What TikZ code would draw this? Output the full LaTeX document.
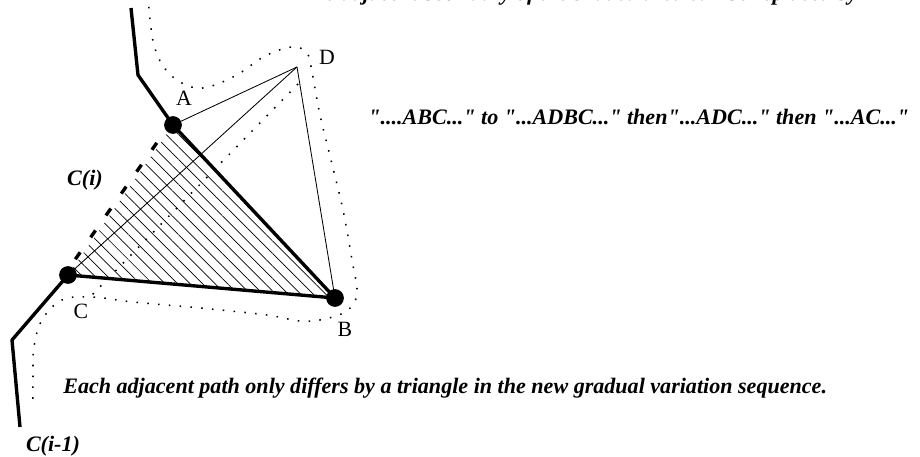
\documentclass[tikz,border=0pt]{standalone}
\usepackage{fontspec}
\setmainfont{Liberation Serif}[Ligatures=TeXOff]
\usetikzlibrary{patterns.meta}

\begin{document}
\begin{tikzpicture}[
    x=0.025cm, y=-0.025cm,
    gradPathStyle/.style={line width=2.4pt, line join=round},
    gradThinStyle/.style={line width=0.6pt},
    gradDashStyle/.style={line width=2.4pt, dash pattern=on 6pt off 13pt, dash phase=2pt},
    gradDotStyle/.style={line width=1.1pt, dash pattern=on 1.1pt off 6.6pt},
    gradHatchStyle/.style={pattern={Lines[angle=-45, distance=6.3pt, line width=0.5pt]}},
    gradVertexStyle/.style={font=\fontsize{15.5}{18}\selectfont, inner sep=0pt},
    gradTextStyle/.style={font=\fontsize{15.7}{19}\selectfont\bfseries\itshape, inner sep=0pt}
]
    \useasboundingbox (0,0) rectangle (920,457);

    % --- 顶点 ---
    \coordinate (A) at (173,125);
    \coordinate (B) at (335,298);
    \coordinate (C) at (68,275);
    \coordinate (D) at (297,67);
    \coordinate (topEnd) at (131,8);
    \coordinate (topBend) at (138,75);
    \coordinate (lowBend) at (12,340);
    \coordinate (lowEnd) at (20,427);
    \coordinate (dotStart) at (298,84);
    \coordinate (dotEnd) at (90,297);

    % 三角形 ABC 阴影
    \path[gradHatchStyle] (A) -- (B) -- (C) -- cycle;

    % 细线
    \draw[gradThinStyle] (D) -- (A);
    \draw[gradThinStyle] (D) -- (C);
    \draw[gradThinStyle] (D) -- (B);

    % 点线 (新路径)
    \draw[gradDotStyle] plot[smooth, tension=0.6] coordinates {
        (148,-4) (150,20) (154,45) (163,66) (180,82) (203,88) (235,76)
        (265,56) (292,47) (307,53) (312,72) (320,115) (331,160) (343,210)
        (352,260) (357,293) (348,310) (325,319) (300,321) (267,315)
        (200,308) (133,302) (92,297) (62,300) (42,320) (34,347) (33,375)
        (33,405)};
    \draw[gradDotStyle] (dotStart) -- (dotEnd);

    % 粗线 C(i)
    \draw[gradPathStyle] (topEnd) -- (topBend) -- (A) -- (B) -- (C)
        -- (lowBend) -- (lowEnd);
    \draw[gradDashStyle] ([shift={(-2.5,-1.7)}]A) -- ([shift={(-2.5,-1.7)}]C);

    \fill (A) circle (6.3pt);
    \fill (B) circle (6.3pt);
    \fill (C) circle (6.3pt);

    % 标注
    \node[gradVertexStyle] (labA) at (184,98) {A};
    \node[gradVertexStyle] (labB) at (345,329) {B};
    \node[gradVertexStyle] (labC) at (81,311) {C};
    \node[gradVertexStyle] (labD) at (327,57) {D};
    \node[gradTextStyle] (labCi) at (85,180) {C(i)};
    \node[gradTextStyle] (labCprev) at (53,446) {C(i-1)};

    % 说明文字
    \node[gradTextStyle, anchor=base east] (noteTop) at (858,0.5)
        {The adjacent boundary of the shaded area can be replaced by};
    \node[gradTextStyle, anchor=base west] (noteSeq) at (368,125)
        {"....ABC..." to "...ADBC..." then"...ADC..." then "...AC..."};
    \node[gradTextStyle, anchor=base west] (noteEach) at (63,394)
        {Each adjacent path only differs by a triangle in the new gradual variation sequence.};
\end{tikzpicture}
\end{document}
